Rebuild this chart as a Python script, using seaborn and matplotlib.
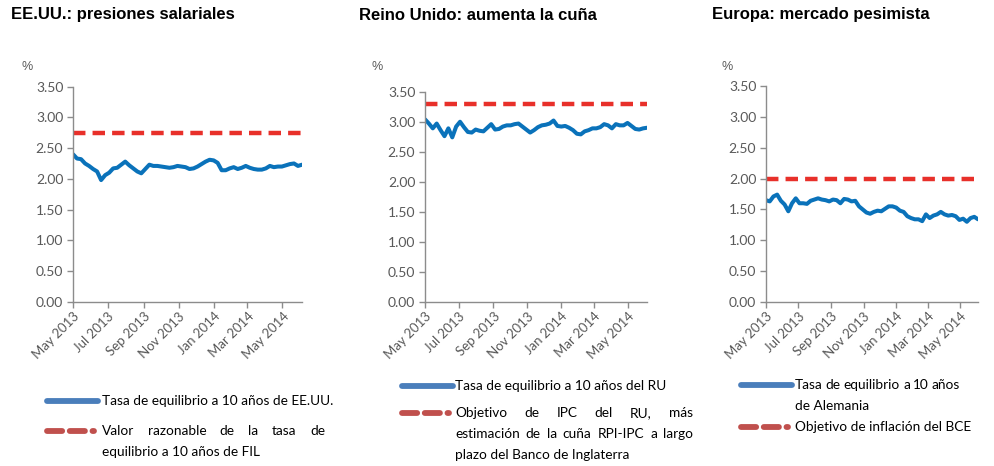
import pandas as pd
import numpy as np
import matplotlib
matplotlib.use('Agg')
import matplotlib.pyplot as plt
from matplotlib.lines import Line2D
import seaborn as sns

# weekly observations, May 2013 - Jun 2014
dates = pd.date_range('2013-05-01', periods=58, freq='7D')

us_breakeven = [2.40, 2.33, 2.32, 2.25, 2.21, 2.16, 2.12, 1.98, 2.06, 2.10,
                2.17, 2.18, 2.23, 2.28, 2.22, 2.17, 2.12, 2.09, 2.16, 2.23,
                2.21, 2.21, 2.20, 2.19, 2.18, 2.19, 2.21, 2.20, 2.19, 2.16,
                2.17, 2.20, 2.24, 2.28, 2.31, 2.30, 2.26, 2.14, 2.14, 2.17,
                2.19, 2.16, 2.18, 2.21, 2.18, 2.16, 2.15, 2.15, 2.17, 2.21,
                2.19, 2.20, 2.20, 2.22, 2.24, 2.25, 2.21, 2.23]
us_fair_value = 2.75

uk_breakeven = [3.04, 2.97, 2.89, 2.97, 2.86, 2.76, 2.89, 2.74, 2.92, 3.00,
                2.91, 2.83, 2.82, 2.87, 2.85, 2.84, 2.90, 2.96, 2.87, 2.88,
                2.92, 2.94, 2.94, 2.96, 2.97, 2.92, 2.87, 2.82, 2.86, 2.91,
                2.94, 2.95, 2.97, 3.02, 2.93, 2.92, 2.93, 2.90, 2.86, 2.80,
                2.79, 2.84, 2.86, 2.89, 2.89, 2.91, 2.96, 2.94, 2.89, 2.96,
                2.94, 2.94, 2.98, 2.93, 2.88, 2.87, 2.89, 2.90]
uk_target = 3.30

de_breakeven = [1.65, 1.63, 1.71, 1.74, 1.64, 1.58, 1.47, 1.60, 1.68, 1.60,
                1.60, 1.59, 1.64, 1.66, 1.68, 1.66, 1.65, 1.63, 1.66, 1.65,
                1.60, 1.67, 1.66, 1.63, 1.64, 1.55, 1.50, 1.45, 1.43, 1.46,
                1.48, 1.47, 1.51, 1.55, 1.55, 1.53, 1.48, 1.46, 1.39, 1.36,
                1.34, 1.34, 1.31, 1.42, 1.36, 1.40, 1.42, 1.46, 1.42, 1.40,
                1.41, 1.39, 1.33, 1.35, 1.30, 1.36, 1.38, 1.34]
ecb_target = 2.00

tick_dates = pd.to_datetime(['2013-05-01', '2013-07-01', '2013-09-01', '2013-11-01',
                             '2014-01-01', '2014-03-01', '2014-05-01'])
tick_labels = ['May 2013', 'Jul 2013', 'Sep 2013', 'Nov 2013',
               'Jan 2014', 'Mar 2014', 'May 2014']

titles = ['EE.UU.: presiones salariales',
          'Reino Unido: aumenta la cuña',
          'Europa: mercado pesimista']

legend_blue = [['Tasa de equilibrio a 10 años de EE.UU.'],
               ['Tasa de equilibrio a 10 años del RU'],
               ['Tasa de equilibrio a 10 años', 'de Alemania']]
legend_red = [['Valor razonable de la tasa de', 'equilibrio a 10 años de FIL'],
              ['Objetivo de IPC del RU, más',
               'estimación de la cuña RPI-IPC a largo',
               'plazo del Banco de Inglaterra'],
              ['Objetivo de inflación del BCE']]

series = [us_breakeven, uk_breakeven, de_breakeven]
levels = [us_fair_value, uk_target, ecb_target]

BLUE = '#0A72BA'
RED = '#E8302A'
LEG_BLUE = '#4A7EBB'
LEG_RED = '#C0504D'
GREY = '#595959'
AXIS = '#8C8C8C'

sns.set_theme(style='white')
plt.rcParams['font.family'] = ['Lato', 'DejaVu Sans']

W, H = 994, 466
fig = plt.figure(figsize=(W / 100, H / 100), dpi=100)

# axes boxes in pixels: left, right, top(3.50), bottom(0.00)
boxes = [(73, 302, 86.5, 302), (425, 647, 91.7, 302), (766, 978, 86, 302)]
title_x = [11, 359, 712]
pct_x = [21, 371, 721]

for i, (l, r, t, b) in enumerate(boxes):
    ax = fig.add_axes([l / W, 1 - b / H, (r - l) / W, (b - t) / H])
    sns.lineplot(x=dates, y=[levels[i]] * len(dates), ax=ax, color=RED,
                 lw=3.2, linestyle=(0, (2.8, 1.6)))
    sns.lineplot(x=dates, y=series[i], ax=ax, color=BLUE, lw=2.9)
    ax.set_ylim(0, 3.5)
    ax.set_xlim(dates[0], dates[-1])
    ax.set_yticks(np.arange(0, 3.51, 0.5))
    ax.set_yticklabels([f'{v:.2f}' for v in np.arange(0, 3.51, 0.5)])
    ax.set_xticks(tick_dates)
    ax.set_xticklabels(tick_labels, rotation=45, ha='right', rotation_mode='anchor')
    ax.set_xlabel('')
    ax.set_ylabel('')
    for s in ['top', 'right']:
        ax.spines[s].set_visible(False)
    for s in ['left', 'bottom']:
        ax.spines[s].set_color(AXIS)
        ax.spines[s].set_linewidth(1.0)
    ax.tick_params(axis='both', colors=AXIS, direction='out', length=4, width=1,
                   labelcolor=GREY, labelsize=10, pad=3, left=True, bottom=True)
    ax.tick_params(axis='x', labelsize=9.5, pad=2)
    ax.patch.set_alpha(0)

    fig.text(title_x[i] / W, 1 - 15 / H, titles[i], fontsize=12, fontweight='bold',
             va='center', ha='left', family='Liberation Sans', color='black')
    fig.text(pct_x[i] / W, 1 - 67 / H, '%', fontsize=9, va='center', ha='left',
             color=GREY, family='Liberation Sans')

fig.canvas.draw()
renderer = fig.canvas.get_renderer()


def justified(text, x0, x1, y, last=False):
    words = text.split()
    arts = [fig.text(0, 1 - y / H, w, va='center', ha='left', fontsize=9.8,
                     color='black') for w in words]
    if last or len(words) == 1:
        arts[0].set_x(x0 / W)
        for a in arts[1:]:
            a.remove()
        arts[0].set_text(text)
        return
    widths = [a.get_window_extent(renderer).width for a in arts]
    gap = (x1 - x0 - sum(widths)) / (len(words) - 1)
    x = x0
    for a, w in zip(arts, widths):
        a.set_x(x / W)
        x += w + gap


# legends below each panel
leg = [
    dict(x=47, x1=98, tx=102, tend=325, yb=401, yr=431),
    dict(x=402, x1=453, tx=455, tend=693, yb=386, yr=413),
    dict(x=741, x1=792, tx=795, tend=960, yb=385, yr=427),
]
for i, g in enumerate(leg):
    fig.add_artist(Line2D([g['x'] / W, g['x1'] / W], [1 - g['yb'] / H] * 2,
                          color=LEG_BLUE, lw=4.2, solid_capstyle='round'))
    fig.add_artist(Line2D([g['x'] / W, (g['x1'] - 4) / W], [1 - g['yr'] / H] * 2,
                          color=LEG_RED, lw=4.2, linestyle=(0, (2.6, 1.3)),
                          dash_capstyle='round'))
    lines = legend_blue[i]
    for k, txt in enumerate(lines):
        justified(txt, g['tx'], g['tend'], g['yb'] + 21 * k, last=(k == len(lines) - 1))
    lines = legend_red[i]
    for k, txt in enumerate(lines):
        justified(txt, g['tx'], g['tend'], g['yr'] + 21 * k, last=(k == len(lines) - 1))

fig.savefig('out.png', dpi=100)
